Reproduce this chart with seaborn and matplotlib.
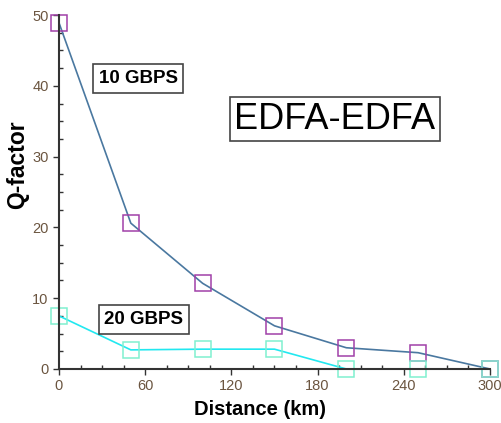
import matplotlib
matplotlib.use("Agg")
import matplotlib.pyplot as plt
import seaborn as sns
import pandas as pd
from matplotlib.ticker import MultipleLocator

distance = [0, 50, 100, 150, 200, 250, 300]
q_10gbps = [48.9, 20.6, 12.1, 6.1, 3.0, 2.3, 0.0]
q_20gbps = [7.5, 2.7, 2.8, 2.8, 0.0, 0.0, 0.0]
x_ticks = [0, 60, 120, 180, 240, 300]
y_ticks = [0, 10, 20, 30, 40, 50]

sns.set_theme(style="white")
plt.rcParams['font.family'] = ['Liberation Sans', 'DejaVu Sans']
plt.rcParams['text.color'] = 'black'

df10 = pd.DataFrame({"Distance": distance, "Q": q_10gbps})
df20 = pd.DataFrame({"Distance": distance, "Q": q_20gbps})

fig = plt.figure(figsize=(5.02, 4.23), dpi=100)
ax = fig.add_axes([0.1175, 0.1277, 0.8585, 0.8368])

sns.lineplot(data=df10, x="Distance", y="Q", ax=ax, color="#4a78a0", linewidth=1.2)
sns.lineplot(data=df20, x="Distance", y="Q", ax=ax, color="#22e8f0", linewidth=1.2)
sns.lineplot(data=df10, x="Distance", y="Q", ax=ax, linestyle="none", marker="s",
             markersize=11, markerfacecolor="none", markeredgecolor="#a040a8",
             markeredgewidth=1.1, clip_on=False)
sns.lineplot(data=df20, x="Distance", y="Q", ax=ax, linestyle="none", marker="s",
             markersize=11, markerfacecolor="none", markeredgecolor="#80f0d0",
             markeredgewidth=1.1, clip_on=False)

ax.set_xlim(0, 300)
ax.set_ylim(0, 50)
ax.set_xticks(x_ticks)
ax.set_yticks(y_ticks)
ax.xaxis.set_minor_locator(MultipleLocator(15))
ax.yaxis.set_minor_locator(MultipleLocator(2.5))
ax.tick_params(which="major", direction="out", length=4, width=1, color="#333333",
               labelsize=10.5, labelcolor="#6b5540", bottom=True, left=True)
ax.tick_params(which="minor", direction="in", length=3, width=1, color="#333333",
               bottom=True, left=True)

for s in ["top", "right"]:
    ax.spines[s].set_visible(False)
for s in ["left", "bottom"]:
    ax.spines[s].set_color("#333333")
    ax.spines[s].set_linewidth(1.5)

ax.set_xlabel("Distance (km)", fontsize=14.5, fontweight="bold", color="black")
ax.set_ylabel("Q-factor", fontsize=16.5, fontweight="bold", color="black")
ax.xaxis.set_label_coords(0.466, -0.0876)
ax.yaxis.set_label_coords(-0.070, 0.576)

box = dict(boxstyle="square,pad=0.3", facecolor="white", edgecolor="#444444", linewidth=1.2)
ax.text(0.184, 0.821, "10 GBPS", transform=ax.transAxes, fontsize=13.5, fontweight="bold",
        color="black", ha="center", va="center", bbox=box)
ax.text(0.197, 0.140, "20 GBPS", transform=ax.transAxes, fontsize=13.5, fontweight="bold",
        color="black", ha="center", va="center", bbox=box)
ax.text(0.640, 0.706, "EDFA-EDFA", transform=ax.transAxes, fontsize=26,
        color="black", ha="center", va="center",
        bbox=dict(boxstyle="square,pad=0.12", facecolor="white", edgecolor="#444444", linewidth=1.2))

if ax.get_legend():
    ax.get_legend().remove()

fig.savefig("out.png", dpi=100)
